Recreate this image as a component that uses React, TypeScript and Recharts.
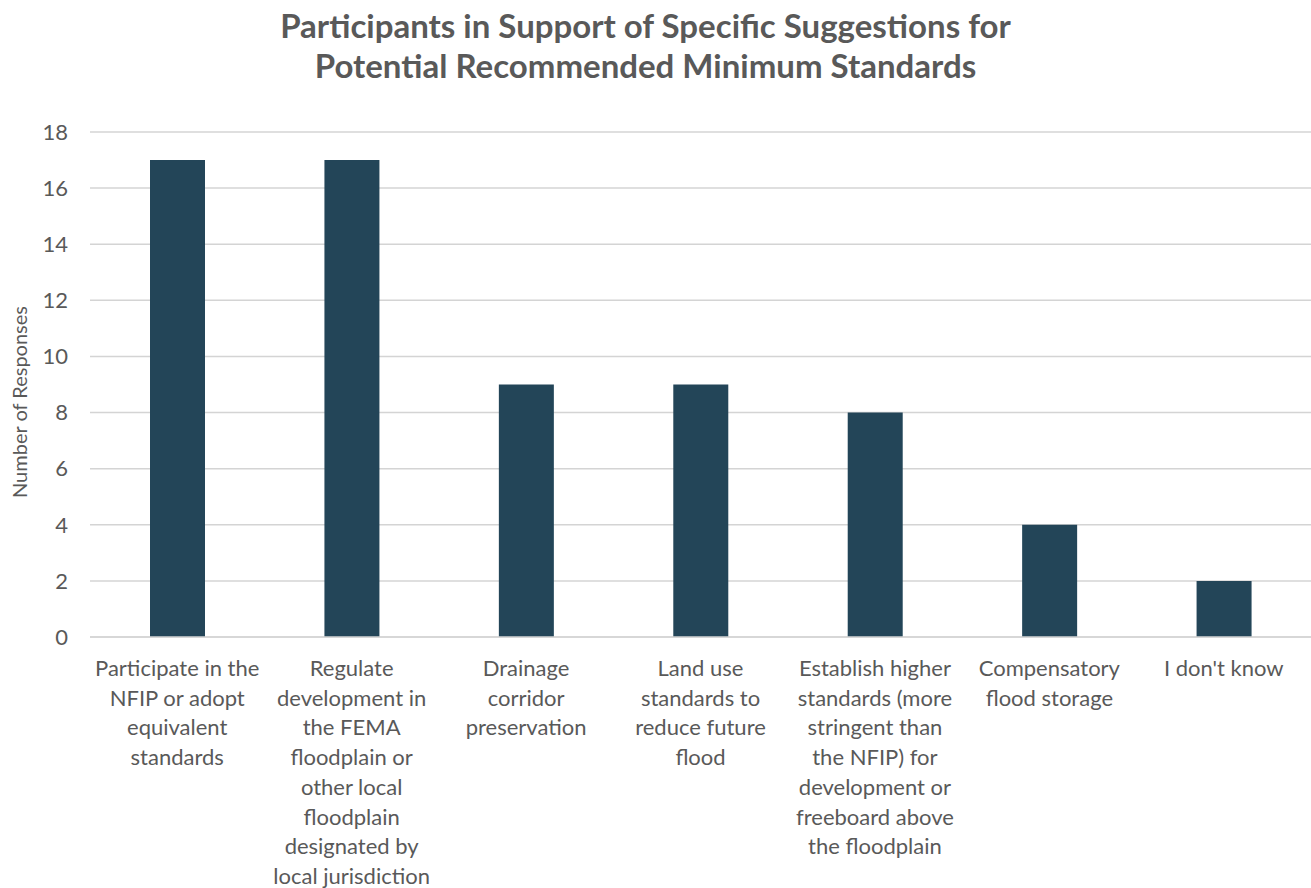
import { BarChart, Bar, XAxis, YAxis, CartesianGrid } from 'recharts'

const categories = [
  'Participate in the NFIP',
  'Regulate development',
  'Drainage corridor',
  'Land use standards',
  'Establish higher standards',
  'Compensatory flood storage',
  "I don't know",
]

// wrapped tick labels, one list of lines per category
const tickLines = [
  ['Participate in the', 'NFIP or adopt', 'equivalent', 'standards'],
  ['Regulate', 'development in', 'the FEMA', 'floodplain or', 'other local', 'floodplain', 'designated by', 'local jurisdiction'],
  ['Drainage', 'corridor', 'preservation'],
  ['Land use', 'standards to', 'reduce future', 'flood'],
  ['Establish higher', 'standards (more', 'stringent than', 'the NFIP) for', 'development or', 'freeboard above', 'the floodplain'],
  ['Compensatory', 'flood storage'],
  ["I don't know"],
]

const responses = [17, 17, 9, 9, 8, 4, 2]

const yTicks = [0, 2, 4, 6, 8, 10, 12, 14, 16, 18]

const data = categories.map((name, i) => ({ name, value: responses[i] }))

const FONT = 'Lato, "Open Sans", sans-serif'
const TEXT = '#595959'
const GRID = '#d4d4d4'

function CategoryTick({ x, y, index }: any) {
  const lines = tickLines[index] ?? []
  return (
    <text x={x} y={y + 39} textAnchor="middle" fill={TEXT} fontSize={22} fontFamily={FONT}>
      {lines.map((line, i) => (
        <tspan key={i} x={x} dy={i === 0 ? 0 : 29.7}>
          {line}
        </tspan>
      ))}
    </text>
  )
}

function YLabel() {
  const cy = 402
  return (
    <text
      x={19}
      y={cy}
      transform={`rotate(-90, 19, ${cy})`}
      textAnchor="middle"
      dominantBaseline="central"
      fill={TEXT}
      fontSize={20}
      fontFamily={FONT}
    >
      Number of Responses
    </text>
  )
}

export default function App() {
  return (
    <div style={{ position: 'absolute', left: 0, top: 0, width: 1311, height: 888, background: '#fff' }}>
      <div
        style={{
          position: 'absolute',
          left: 0,
          top: 5,
          width: 1291,
          textAlign: 'center',
          fontFamily: FONT,
          fontWeight: 700,
          fontSize: 33,
          lineHeight: '40px',
          color: TEXT,
        }}
      >
        Participants in Support of Specific Suggestions for
        <br />
        Potential Recommended Minimum Standards
      </div>
      <BarChart width={1311} height={888} data={data} margin={{ top: 132, right: 0, bottom: 0, left: 0 }}>
        <CartesianGrid vertical={false} stroke={GRID} strokeWidth={1.5} />
        <XAxis
          dataKey="name"
          interval={0}
          height={251}
          tickLine={false}
          tickSize={0}
          tickMargin={0}
          axisLine={{ stroke: GRID, strokeWidth: 1.5 }}
          tick={(props: any) => <CategoryTick {...props} />}
        />
        <YAxis
          width={90}
          domain={[0, 18]}
          ticks={yTicks}
          axisLine={false}
          tickLine={false}
          tickSize={0}
          tickMargin={22}
          tick={{ fill: TEXT, fontSize: 22, fontFamily: FONT }}
          label={() => <YLabel />}
        />
        <Bar dataKey="value" fill="#234558" barSize={55} isAnimationActive={false} />
      </BarChart>
    </div>
  )
}
